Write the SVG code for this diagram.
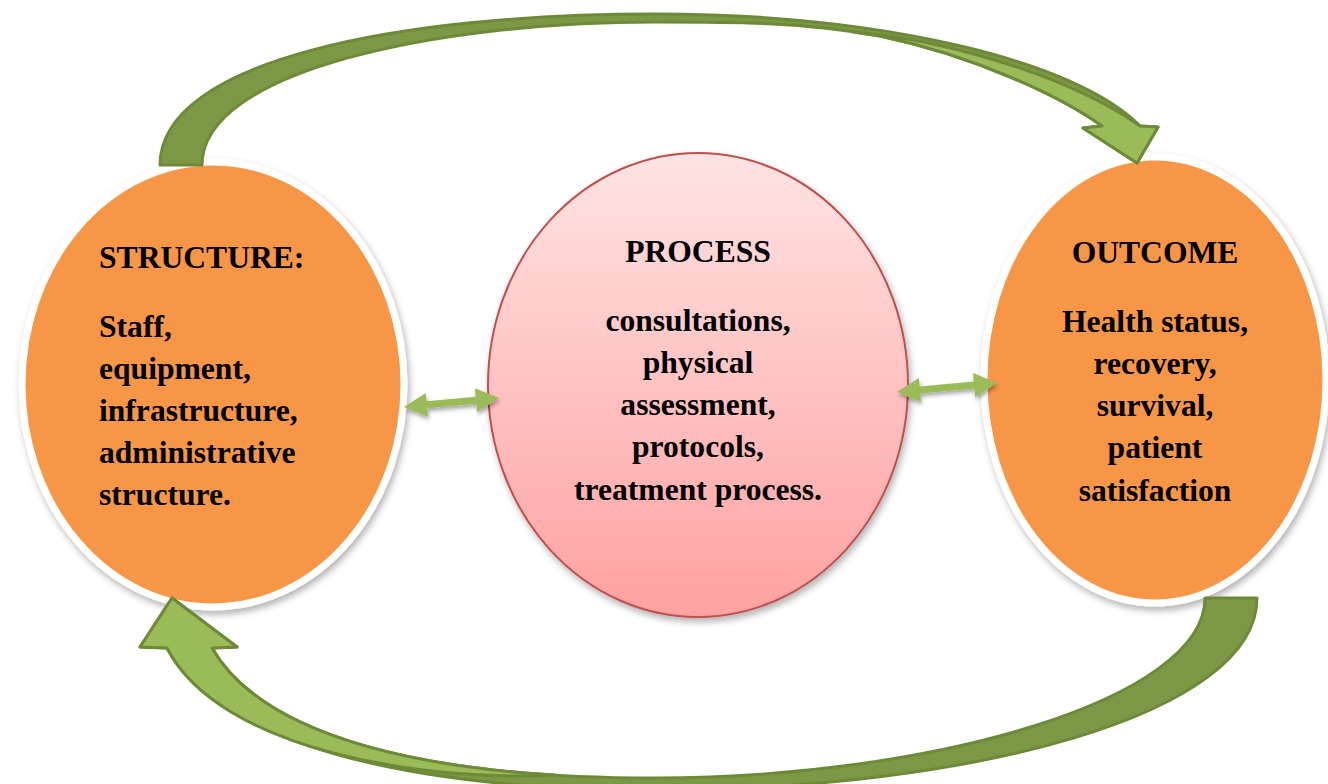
<svg xmlns="http://www.w3.org/2000/svg" width="1328" height="784" viewBox="0 0 1328 784">
<style>
.lbl{font-family:"Liberation Serif","Times New Roman",serif;font-weight:bold;font-size:31.6px;fill:#000}
.mid{text-anchor:middle}
.orange{fill:#f79646;stroke:#ffffff;stroke-width:7}
.band-dark{fill:#7c9745;stroke:#6e8a39;stroke-width:3;stroke-linejoin:round}
.band-light{fill:#9bbb59;stroke:#6e8a39;stroke-width:3;stroke-linejoin:round}
.dbl{fill:#9bbb59}
</style>
<defs>
<filter id="sh" x="-20%" y="-20%" width="140%" height="140%">
<feDropShadow dx="2" dy="4" stdDeviation="3.5" flood-color="#000" flood-opacity="0.3"/>
</filter>
<filter id="sh2" x="-20%" y="-50%" width="140%" height="200%">
<feDropShadow dx="1" dy="3" stdDeviation="2" flood-color="#000" flood-opacity="0.35"/>
</filter>
<linearGradient id="pink" x1="0" y1="0" x2="0" y2="1">
<stop offset="0" stop-color="#ffe3e3"/>
<stop offset="1" stop-color="#ffa1a1"/>
</linearGradient>
</defs>
<rect width="1328" height="784" fill="#ffffff"/>

<g id="structure">
<ellipse class="orange" cx="213" cy="384.5" rx="191" ry="222.5" filter="url(#sh)"/>
<text class="lbl" x="99" y="268">STRUCTURE:</text>
<text class="lbl" x="99" y="337">Staff,</text>
<text class="lbl" x="99" y="379">equipment,</text>
<text class="lbl" x="99" y="421">infrastructure,</text>
<text class="lbl" x="99" y="463">administrative</text>
<text class="lbl" x="99" y="505">structure.</text>
</g>

<g id="process">
<ellipse cx="698" cy="385" rx="210" ry="232" fill="url(#pink)" stroke="#c0504d" stroke-width="2" filter="url(#sh)"/>
<text class="lbl mid" x="698" y="262">PROCESS</text>
<text class="lbl mid" x="698" y="331">consultations,</text>
<text class="lbl mid" x="698" y="373">physical</text>
<text class="lbl mid" x="698" y="415">assessment,</text>
<text class="lbl mid" x="698" y="457">protocols,</text>
<text class="lbl mid" x="698" y="500">treatment process.</text>
</g>

<g id="outcome">
<ellipse class="orange" cx="1155" cy="380" rx="171" ry="223" filter="url(#sh)"/>
<text class="lbl mid" x="1155" y="263">OUTCOME</text>
<text class="lbl mid" x="1155" y="332">Health status,</text>
<text class="lbl mid" x="1155" y="374">recovery,</text>
<text class="lbl mid" x="1155" y="416">survival,</text>
<text class="lbl mid" x="1155" y="458">patient</text>
<text class="lbl mid" x="1155" y="501">satisfaction</text>
</g>

<g id="connectors">
<g id="arrow-top">
<path class="band-dark" d="M160,165 C160,60 400,14 655,14 C880,14 1075,60 1140,126 L1158,127 L1137,163 L1083,128 L1102,126 C1060,96 975,56 880,36 C800,22 740,22 655,22 C440,22 202,70 202,165 Z"/>
<path class="band-light" d="M853,32 C930,38 1060,70 1140,126 L1158,127 L1137,163 L1083,128 L1102,126 C1060,96 975,56 880,36 Z"/>
</g>
<g id="arrow-bottom">
<path class="band-dark" d="M1257,598 C1257,715 970,790 655,790 C400,790 215,740 167,648 L140,647 L172,598 L237,647 L212,648 C262,735 420,778 655,778 C930,778 1205,700 1205,598 Z"/>
<path class="band-light" d="M554.4,775.1 C430,782 220,752 167,648 L140,647 L172,598 L237,647 L212,648 C254.5,722 375,764.2 554.4,775.1 Z"/>
</g>
<g id="arrow-structure-process" filter="url(#sh2)">
<polygon class="dbl" transform="translate(404,407) rotate(-5.41)" points="0,0 23,-12 23,-3.5 72.4,-3.5 72.4,-12 95.4,0 72.4,12 72.4,3.5 23,3.5 23,12"/>
</g>
<g id="arrow-process-outcome" filter="url(#sh2)">
<polygon class="dbl" transform="translate(897,392) rotate(-5.14)" points="0,0 23,-12 23,-3.5 77.4,-3.5 77.4,-12 100.4,0 77.4,12 77.4,3.5 23,3.5 23,12"/>
</g>
</g>
</svg>
